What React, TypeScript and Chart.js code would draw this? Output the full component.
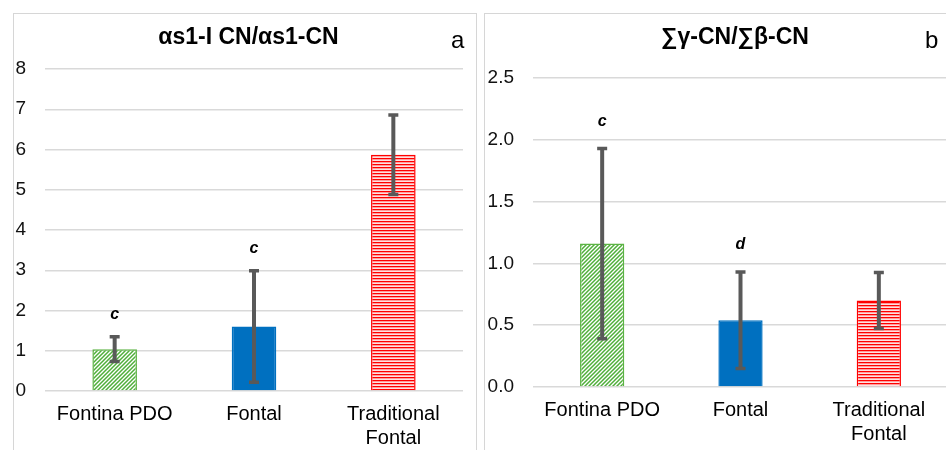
import React, { useEffect, useRef } from "react";
import { Chart, registerables } from "chart.js";

Chart.register(...registerables);

// ---- data ----
const categories: string[][] = [["Fontina PDO"], ["Fontal"], ["Traditional", "Fontal"]];

const titleA = "αs1-I CN/αs1-CN";
const panelA = "a";
const meanA = [1.04, 1.6, 5.87];
const errA = [0.31, 1.385, 0.99];
const lettersA = ["c", "c", ""];
const maxA = 8;
const stepA = 1;

const titleB = "∑γ-CN/∑β-CN";
const panelB = "b";
const meanB = [1.16, 0.54, 0.7];
const errB = [0.77, 0.39, 0.227];
const lettersB = ["c", "d", ""];
const maxB = 2.5;
const stepB = 0.5;

const FONT = "'Liberation Sans', Arial, sans-serif";

function makeHatch(color: string) {
  const c = document.createElement("canvas");
  c.width = 4;
  c.height = 4;
  const g = c.getContext("2d")!;
  g.fillStyle = "#ffffff";
  g.fillRect(0, 0, 4, 4);
  g.strokeStyle = color;
  g.lineWidth = 1.5;
  g.beginPath();
  g.moveTo(0, 4);
  g.lineTo(4, 0);
  g.moveTo(-1, 1);
  g.lineTo(1, -1);
  g.moveTo(3, 5);
  g.lineTo(5, 3);
  g.stroke();
  return g.createPattern(c, "repeat")!;
}

function makeHLines(color: string) {
  const c = document.createElement("canvas");
  c.width = 4;
  c.height = 3;
  const g = c.getContext("2d")!;
  g.fillStyle = "#ffe0e0";
  g.fillRect(0, 0, 4, 3);
  g.fillStyle = color;
  g.fillRect(0, 0, 4, 1.3);
  return g.createPattern(c, "repeat")!;
}

const overlayPlugin = {
  id: "overlay",
  afterDatasetsDraw(chart: any, _args: any, opts: any) {
    const { ctx } = chart;
    const y = chart.scales.y;
    const meta = chart.getDatasetMeta(0);
    meta.data.forEach((bar: any, i: number) => {
      const v = opts.values[i];
      const e = opts.errors[i];
      const yt = y.getPixelForValue(v + e);
      const yb = y.getPixelForValue(v - e);
      ctx.save();
      ctx.strokeStyle = "#595959";
      ctx.lineWidth = 4;
      ctx.beginPath();
      ctx.moveTo(bar.x, yt);
      ctx.lineTo(bar.x, yb);
      ctx.stroke();
      ctx.lineWidth = 3.5;
      ctx.beginPath();
      ctx.moveTo(bar.x - 5, yt);
      ctx.lineTo(bar.x + 5, yt);
      ctx.moveTo(bar.x - 5, yb);
      ctx.lineTo(bar.x + 5, yb);
      ctx.stroke();
      const letter = opts.letters[i];
      if (letter) {
        ctx.fillStyle = "#000";
        ctx.font = `italic bold 16px ${FONT}`;
        ctx.textAlign = "center";
        ctx.textBaseline = "middle";
        ctx.fillText(letter, bar.x, yt - opts.letterOffset);
      }
      ctx.restore();
    });
    ctx.save();
    ctx.fillStyle = "#000";
    ctx.textBaseline = "alphabetic";
    ctx.font = `bold 23px ${FONT}`;
    ctx.textAlign = "center";
    ctx.fillText(opts.title, opts.titleX, 30);
    ctx.font = `24px ${FONT}`;
    ctx.textAlign = "left";
    ctx.fillText(opts.panel, opts.panelX, 34);
    ctx.restore();
  },
};

function buildChart(canvas: HTMLCanvasElement, p: any) {
  const bg = [makeHatch("#4fae3a"), "#0070C0", makeHLines("#ff0000")];
  const border = ["#5cb344", "#0070C0", "#ff0000"];
  return new Chart(canvas, {
    type: "bar",
    data: {
      labels: categories,
      datasets: [
        {
          data: p.values,
          backgroundColor: bg as any,
          borderColor: border,
          borderWidth: 1.5,
          barPercentage: 0.32,
          categoryPercentage: 1,
        },
      ],
    },
    options: {
      responsive: false,
      animation: false,
      layout: { padding: { top: p.padTop, right: p.padRight, left: 0, bottom: 0 } },
      plugins: {
        legend: { display: false },
        tooltip: { enabled: false },
        title: { display: false },
        overlay: p.overlay,
      } as any,
      scales: {
        x: {
          grid: { display: false, drawTicks: false },
          border: { display: false },
          ticks: {
            font: { family: FONT, size: 20, lineHeight: 1.2 },
            color: "#000",
            padding: 11,
            maxRotation: 0,
            autoSkip: false,
          },
          afterFit: (s: any) => {
            s.height = p.xHeight;
          },
        },
        y: {
          min: 0,
          max: p.max,
          grid: { color: "#d9d9d9", lineWidth: 1.5, drawTicks: false },
          border: { display: false },
          ticks: {
            stepSize: p.step,
            font: { family: FONT, size: 19 },
            color: "#111",
            padding: 19,
            callback: (v: any) => (p.decimals ? Number(v).toFixed(p.decimals) : String(v)),
          },
          afterFit: (s: any) => {
            s.width = p.yWidth;
          },
        },
      },
    },
    plugins: [overlayPlugin],
  });
}

export default function App() {
  const refA = useRef<HTMLCanvasElement>(null);
  const refB = useRef<HTMLCanvasElement>(null);

  useEffect(() => {
    const a = buildChart(refA.current!, {
      values: meanA,
      max: maxA,
      step: stepA,
      decimals: 0,
      padTop: 55,
      padRight: 12,
      yWidth: 31,
      xHeight: 59,
      overlay: {
        values: meanA,
        errors: errA,
        letters: lettersA,
        letterOffset: 22,
        title: titleA,
        titleX: 234.5,
        panel: panelA,
        panelX: 437,
      },
    });
    const b = buildChart(refB.current!, {
      values: meanB,
      max: maxB,
      step: stepB,
      decimals: 1,
      padTop: 64,
      padRight: 7,
      yWidth: 48,
      xHeight: 63,
      overlay: {
        values: meanB,
        errors: errB,
        letters: lettersB,
        letterOffset: 27,
        title: titleB,
        titleX: 250,
        panel: panelB,
        panelX: 440,
      },
    });
    return () => {
      a.destroy();
      b.destroy();
    };
  }, []);

  return (
    <div
      style={{
        position: "absolute",
        left: 0,
        top: 0,
        width: 946,
        height: 450,
        overflow: "hidden",
        background: "#fff",
      }}
    >
      <div
        style={{
          position: "absolute",
          left: 13,
          top: 13,
          width: 462,
          height: 450,
          border: "1px solid #d6d6d6",
        }}
      >
        <canvas ref={refA} width={461} height={436} style={{ display: "block" }} />
      </div>
      <div
        style={{
          position: "absolute",
          left: 484,
          top: 13,
          width: 480,
          height: 450,
          border: "1px solid #d6d6d6",
        }}
      >
        <canvas ref={refB} width={470} height={436} style={{ display: "block" }} />
      </div>
    </div>
  );
}
